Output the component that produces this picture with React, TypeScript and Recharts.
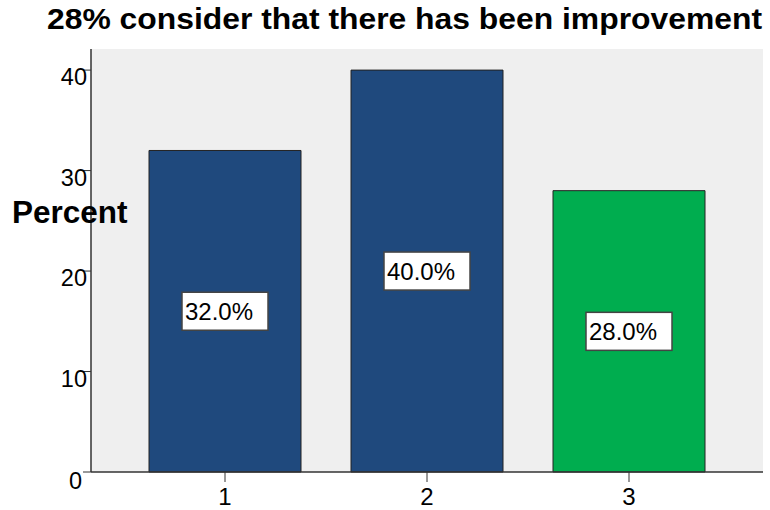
import React from 'react';
import { BarChart, Bar, XAxis, YAxis, CartesianGrid, Cell, LabelList } from 'recharts';

const categories = ['1', '2', '3'];
const percentValues = [32, 40, 28];
const barColors = ['#1f497d', '#1f497d', '#00ad4f'];
const yTicks = [0, 10, 20, 30, 40];
const titleText = '28% consider that there has been improvement';
const yAxisTitle = 'Percent';

const data = categories.map((c, i) => ({ cat: c, value: percentValues[i] }));

const FONT = '"Liberation Sans", Arial, Helvetica, sans-serif';

const YTick = (props: any) => {
  const { x, y, payload } = props;
  const isZero = payload.value === 0;
  return (
    <text
      x={isZero ? x + 1 : x + 6}
      y={y + (isZero ? 17 : 15)}
      textAnchor="end"
      fontSize={23.5}
      fontFamily={FONT}
      fill="#000"
    >
      {payload.value}
    </text>
  );
};

const XTick = (props: any) => {
  const { x, y, payload } = props;
  return (
    <text x={x} y={y + 21} textAnchor="middle" fontSize={24} fontFamily={FONT} fill="#000">
      {payload.value}
    </text>
  );
};

const BarValueLabel = (props: any) => {
  const { x, y, width, height, value } = props;
  const cx = x + width / 2;
  const cy = y + height / 2;
  const bw = 86;
  const bh = 38;
  return (
    <g>
      <rect x={cx - bw / 2} y={cy - bh / 2} width={bw} height={bh} fill="#fff" stroke="#444" strokeWidth={1.5} />
      <text x={cx - bw / 2 + 3} y={cy + 9} fontSize={24} fontFamily={FONT} fill="#000">
        {Number(value).toFixed(1)}%
      </text>
    </g>
  );
};

const PercentLabel = () => {
  return (
    <text x={12} y={223} fontSize={31.5} fontWeight="bold" fontFamily={FONT} fill="#000">
      {yAxisTitle}
    </text>
  );
};

export default function App() {
  return (
    <div style={{ position: 'absolute', left: 0, top: 0, width: 770, height: 510, background: '#fff' }}>
      <svg width={770} height={45} style={{ position: 'absolute', left: 0, top: 0 }}>
        <text
          x={47}
          y={29}
          fontSize={30}
          fontWeight="bold"
          fontFamily={FONT}
          textLength={715}
          lengthAdjust="spacingAndGlyphs"
          fill="#000"
        >
          {titleText}
        </text>
      </svg>
      <div style={{ position: 'absolute', left: 0, top: 0 }}>
        <BarChart
          width={770}
          height={510}
          data={data}
          margin={{ top: 49, right: 7, left: 31, bottom: 0 }}
          barSize={152}
        >
          <CartesianGrid horizontal={false} vertical={false} fill="#efefef" />
          <XAxis
            dataKey="cat"
            padding={{ left: 33, right: 33 }}
            height={38}
            tickSize={10}
            tickMargin={2}
            tick={<XTick />}
            axisLine={{ stroke: '#333', strokeWidth: 1.5 }}
            tickLine={{ stroke: '#333' }}
          />
          <XAxis
            xAxisId="top"
            dataKey="cat"
            orientation="top"
            height={0}
            tick={false}
            tickLine={false}
            axisLine={{ stroke: '#555', strokeWidth: 1.5 }}
          />
          <YAxis
            width={60}
            domain={[0, 42.1]}
            ticks={yTicks}
            tickSize={8}
            tickMargin={2}
            tick={<YTick />}
            axisLine={{ stroke: '#333', strokeWidth: 1.5 }}
            tickLine={{ stroke: '#333' }}
            label={<PercentLabel />}
          />
          <YAxis
            yAxisId="right"
            orientation="right"
            width={0}
            domain={[0, 42.1]}
            tick={false}
            tickLine={false}
            axisLine={{ stroke: '#999', strokeWidth: 2 }}
          />
          <Bar dataKey="value" isAnimationActive={false} stroke="#222" strokeWidth={1}>
            {data.map((d, i) => (
              <Cell key={d.cat} fill={barColors[i]} />
            ))}
            <LabelList dataKey="value" content={<BarValueLabel />} />
          </Bar>
        </BarChart>
      </div>
    </div>
  );
}
